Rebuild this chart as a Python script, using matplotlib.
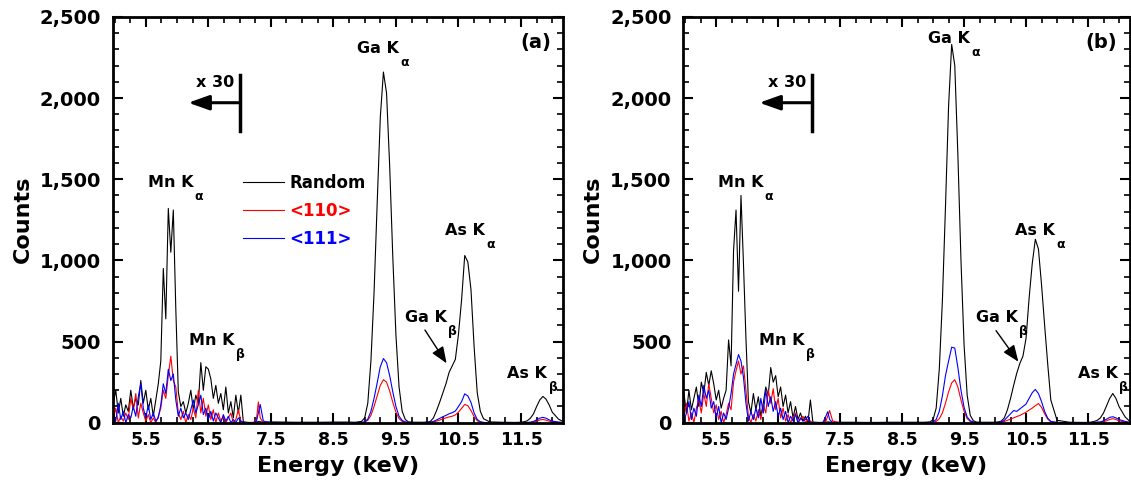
import matplotlib.pyplot as plt
from matplotlib.ticker import MultipleLocator, FuncFormatter

plt.rcParams['font.family'] = 'DejaVu Sans'
plt.rcParams['font.weight'] = 'bold'

# ======================================
# Data (counts)
# ======================================
# Below ~7 keV the spectra are shown magnified x30; the values here are
# the counts as drawn on the chart.

energy_lo = [4.98, 5.02, 5.06, 5.10, 5.14, 5.18, 5.22, 5.26, 5.30, 5.34,
             5.38, 5.42, 5.46, 5.50, 5.54, 5.58, 5.62, 5.66, 5.70, 5.74,
             5.78, 5.82, 5.86, 5.90, 5.94, 5.98, 6.02, 6.06, 6.10, 6.14,
             6.18, 6.22, 6.26, 6.30, 6.34, 6.38, 6.42, 6.46, 6.50, 6.54,
             6.58, 6.62, 6.66, 6.70, 6.74, 6.78, 6.82, 6.86, 6.90, 6.94,
             6.98, 7.02]

energy_hi = [7.06, 7.14, 7.22, 7.27, 7.30, 7.33, 7.38, 7.5, 7.7, 7.9,
             8.1, 8.3, 8.5, 8.7, 8.85, 8.95, 9.0, 9.05, 9.1, 9.15,
             9.2, 9.25, 9.3, 9.35, 9.4, 9.45, 9.5, 9.55, 9.6, 9.65,
             9.7, 9.8, 9.9, 9.95, 10.0, 10.05, 10.1, 10.15, 10.2, 10.25,
             10.3, 10.35, 10.4, 10.45, 10.5, 10.55, 10.6, 10.65, 10.7, 10.75,
             10.8, 10.85, 10.9, 11.0, 11.2, 11.4, 11.5, 11.55, 11.6, 11.65,
             11.7, 11.75, 11.8, 11.85, 11.9, 11.95, 12.0, 12.1, 12.17]

# panel (a)
a_random_lo = [120, 200, 60, 150, 40, 110, 70, 200, 90, 150,
               110, 260, 120, 200, 80, 150, 40, 140, 240, 380,
               950, 640, 1320, 1050, 1310, 700, 190, 100, 130, 60,
               120, 200, 80, 170, 120, 370, 200, 345, 330, 270,
               150, 230, 120, 180, 80, 220, 60, 130, 30, 170,
               60, 170]
a_110_lo = [20, 90, 0, 40, 10, 60, 20, 150, 80, 180,
            30, 120, 60, 10, 50, 0, 30, 0, 40, 90,
            200, 150, 290, 410, 260, 220, 60, 20, 70, 0,
            50, 20, 90, 30, 200, 60, 150, 40, 110, 20,
            80, 0, 60, 10, 40, 0, 30, 60, 0, 20,
            80, 10]
a_111_lo = [60, 10, 120, 20, 70, 0, 50, 30, 100, 40,
            160, 240, 90, 30, 110, 20, 60, 10, 30, 110,
            240, 180, 330, 260, 300, 140, 40, 90, 30, 60,
            20, 80, 140, 60, 110, 170, 50, 90, 20, 70,
            10, 60, 30, 0, 50, 10, 40, 0, 20, 0,
            30, 10]

a_random_hi = [5, 2, 2, 3, 8, 6, 3, 5, 4, 3, 3, 3, 4, 4, 3,
               8, 30, 120, 380, 800, 1350, 1880, 2160, 2030, 1580,
               1020, 540, 220, 70, 20, 5,
               3, 3,
               3, 4, 8, 30, 75, 127, 183, 240, 310, 350,
               390, 545, 757, 1030, 990, 820, 470, 185, 70, 25,
               5, 3, 2,
               3, 6, 12, 28, 55, 100, 140, 162, 145, 110, 65, 22, 8]
a_110_hi = [3, 0, 0, 20, 128, 30, 0, 0, 0, 0, 0, 0, 0, 0, 0,
            0, 4, 15, 45, 100, 165, 230, 265, 250, 195,
            125, 65, 25, 8, 3, 0,
            0, 0,
            0, 0, 2, 5, 10, 16, 24, 30, 36, 40,
            48, 65, 88, 113, 105, 75, 38, 12, 4, 1,
            0, 0, 0,
            0, 0, 1, 2, 4, 10, 17, 20, 16, 10, 5, 2, 0]
a_111_hi = [3, 0, 0, 10, 60, 112, 10, 0, 0, 0, 0, 0, 0, 0, 0,
            2, 6, 22, 70, 150, 245, 345, 395, 370, 290,
            190, 100, 40, 14, 5, 2,
            0, 0,
            1, 2, 4, 8, 17, 27, 37, 45, 55, 62,
            72, 100, 130, 178, 165, 125, 60, 20, 6, 2,
            0, 0, 0,
            0, 1, 2, 3, 8, 18, 28, 33, 28, 18, 10, 4, 2]

# panel (b)
b_random_lo = [180, 60, 200, 80, 150, 220, 100, 250, 180, 310,
               230, 320, 240, 140, 200, 90, 150, 200, 510, 350,
               1060, 1310, 810, 1400, 980, 520, 130, 60, 180, 80,
               160, 40, 120, 220, 170, 340, 250, 290, 160, 220,
               100, 170, 60, 130, 30, 100, 20, 60, 10, 40,
               0, 140]
b_110_lo = [40, 120, 10, 60, 0, 90, 140, 60, 180, 100,
            240, 150, 60, 110, 20, 70, 0, 50, 120, 80,
            250, 320, 380, 300, 350, 200, 40, 0, 50, 10,
            80, 20, 110, 60, 200, 120, 210, 80, 150, 30,
            90, 10, 50, 0, 30, 60, 0, 20, 40, 0,
            20, 10]
b_111_lo = [10, 60, 130, 20, 90, 40, 170, 100, 230, 150,
            200, 90, 130, 30, 100, 0, 60, 20, 90, 180,
            300, 360, 420, 380, 280, 120, 10, 70, 20, 90,
            30, 150, 60, 200, 100, 160, 70, 130, 40, 90,
            20, 70, 0, 40, 10, 50, 0, 30, 10, 20,
            40, 0]

b_random_hi = [4, 2, 2, 3, 5, 4, 2, 3, 3, 2, 2, 3, 3, 3, 3,
               5, 20, 90, 330, 750, 1330, 1950, 2330, 2200, 1650,
               1000, 480, 170, 45, 12, 4,
               3, 3,
               3, 3, 5, 10, 30, 80, 150, 230, 305, 365,
               410, 520, 770, 980, 1130, 1070, 850, 600, 360, 140,
               15, 3, 2,
               2, 4, 8, 15, 30, 60, 105, 150, 180, 150, 100, 35, 10]
b_110_hi = [0, 0, 0, 10, 40, 75, 10, 0, 0, 0, 0, 0, 0, 0, 0,
            0, 2, 8, 25, 60, 120, 190, 245, 265, 220,
            140, 70, 25, 8, 2, 0,
            0, 0,
            0, 0, 1, 3, 8, 15, 22, 30, 38, 45,
            55, 65, 78, 90, 105, 118, 95, 55, 22, 6,
            1, 0, 0,
            0, 1, 2, 3, 4, 6, 12, 20, 25, 20, 12, 4, 1]
b_111_hi = [0, 0, 0, 40, 68, 20, 0, 0, 0, 0, 0, 0, 0, 0, 0,
            2, 5, 20, 70, 165, 290, 380, 465, 460, 340,
            200, 95, 35, 12, 4, 1,
            0, 0,
            0, 1, 2, 5, 15, 35, 55, 75, 70, 85,
            100, 115, 150, 185, 205, 180, 130, 70, 28, 8,
            2, 0, 0,
            0, 1, 2, 3, 5, 12, 22, 33, 37, 30, 20, 8, 3]

series_names = ['Random', '<110>', '<111>']
series_colors = ['black', 'red', 'blue']


# ======================================
# Helpers
# ======================================

def peak_label(ax, x, y, name, sub):
    t = ax.text(x, y, name, fontsize=11.5, fontweight='bold', va='baseline')
    ax.annotate(sub, xy=(1.0, 0.0), xycoords=t, xytext=(1, 0),
                textcoords='offset points', fontsize=9, fontweight='bold',
                va='top', ha='left')


def style_axes(ax):
    ax.set_xlim(4.97, 12.17)
    ax.set_ylim(0, 2500)
    ax.xaxis.set_major_locator(MultipleLocator(1.0, offset=0.5))
    ax.xaxis.set_minor_locator(MultipleLocator(0.25))
    ax.yaxis.set_major_locator(MultipleLocator(500))
    ax.yaxis.set_minor_locator(MultipleLocator(100))
    ax.yaxis.set_major_formatter(FuncFormatter(lambda v, p: f'{v:,.0f}'))
    ax.tick_params(which='both', direction='in', top=True, right=True)
    ax.tick_params(which='major', length=7, width=1.5)
    ax.tick_params(which='minor', length=4, width=1.2)
    ax.tick_params(axis='x', labelsize=12.5, pad=6)
    ax.tick_params(axis='y', labelsize=14, pad=8.5)
    for lab in ax.get_xticklabels() + ax.get_yticklabels():
        lab.set_fontweight('bold')
    for s in ax.spines.values():
        s.set_linewidth(2)
    ax.set_xlabel('Energy (keV)', fontsize=16, fontweight='bold', labelpad=5)
    ax.set_ylabel('Counts', fontsize=16, fontweight='bold', labelpad=5)


def plot_panel(ax, lo_sets, hi_sets, tag, lab_pos, bar_x, arrow_tip, beta_arrow):
    for lo, hi, name, c in zip(lo_sets, hi_sets, series_names, series_colors):
        ax.plot(energy_lo + energy_hi, lo + hi, color=c, lw=0.8, label=name)
    style_axes(ax)

    for (x, y), (name, sub) in zip(lab_pos, [('Mn K', 'α'), ('Mn K', 'β'), ('Ga K', 'α'),
                                             ('Ga K', 'β'), ('As K', 'α'), ('As K', 'β')]):
        peak_label(ax, x, y, name, sub)

    ax.text(tag[0], tag[1], tag[2], fontsize=14, fontweight='bold', ha='center', va='center')

    # x30 marker
    ax.plot([bar_x, bar_x], [1798, 2141], color='black', lw=2.5)
    ax.annotate('', xy=(arrow_tip, 1971), xytext=(bar_x, 1971),
                arrowprops=dict(arrowstyle='-|>,head_length=0.9,head_width=0.32',
                                mutation_scale=14, lw=2.2, color='black',
                                shrinkA=0, shrinkB=0))
    ax.text((arrow_tip + bar_x) / 2 + 0.02, 2069, 'x 30', fontsize=11.5,
            fontweight='bold', ha='center', va='baseline')

    # arrow to the Ga K-beta shoulder
    ax.annotate('', xy=beta_arrow[1], xytext=beta_arrow[0],
                arrowprops=dict(arrowstyle='-|>,head_length=1.0,head_width=0.4',
                                mutation_scale=10, lw=1.0, color='black',
                                shrinkA=0, shrinkB=0))


# ======================================
# Figure
# ======================================

fig = plt.figure(figsize=(11.31, 4.95), dpi=100)
ax_a = fig.add_axes([0.0996, 0.146, 0.3981, 0.820])
ax_b = fig.add_axes([0.6042, 0.146, 0.3945, 0.820])

plot_panel(ax_a, [a_random_lo, a_110_lo, a_111_lo], [a_random_hi, a_110_hi, a_111_hi],
           (11.74, 2340, '(a)'),
           [(5.53, 1452), (6.195, 479), (8.88, 2277), (9.644, 622), (10.283, 1156), (11.28, 277)],
           7.005, 6.18, ((9.964, 571), (10.31, 366)))

plot_panel(ax_b, [b_random_lo, b_110_lo, b_111_lo], [b_random_hi, b_110_hi, b_111_hi],
           (11.71, 2340, '(b)'),
           [(5.525, 1452), (6.19, 479), (8.92, 2340), (9.69, 622), (10.323, 1156), (11.334, 277)],
           7.042, 6.196, ((10.016, 567), (10.376, 376)))

leg = ax_a.legend(loc='upper left', bbox_to_anchor=(0.289, 0.612), frameon=False,
                  fontsize=12, labelcolor='linecolor', handlelength=2.45,
                  handletextpad=0.36, labelspacing=0.6, borderpad=0, borderaxespad=0)
for t in leg.get_texts():
    t.set_fontweight('bold')

fig.savefig('out.png', dpi=100)
